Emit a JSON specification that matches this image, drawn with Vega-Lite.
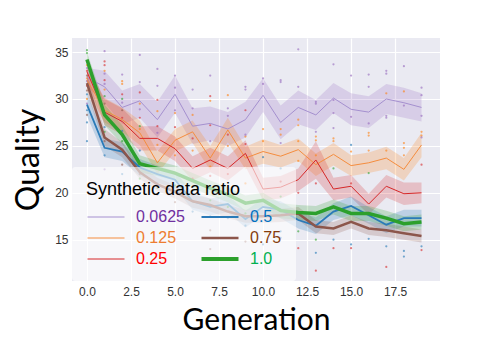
{
  "$schema": "https://vega.github.io/schema/vega-lite/v6.json",
  "width": 368,
  "height": 243,
  "autosize": "none",
  "padding": {"left": 72, "top": 38, "right": 48, "bottom": 79},
  "background": "white",
  "config": {
    "view": {"fill": "#EAEAF2", "stroke": null},
    "axis": {
      "domain": false, "ticks": false, "gridColor": "white", "gridWidth": 1.2,
      "labelFont": "Liberation Sans", "labelFontSize": 12, "labelColor": "#333333",
      "titleFont": "Lato", "titleFontWeight": "normal", "titleColor": "black"
    }
  },
  "datasets": {
    "s": [
      {"r":"0.0625","g":0,"q":32.3,"lo":31.3,"hi":33.3},{"r":"0.0625","g":1,"q":31.3,"lo":29.6,"hi":33.0},{"r":"0.0625","g":2,"q":29.1,"lo":27.3,"hi":30.9},{"r":"0.0625","g":3,"q":29.8,"lo":28.0,"hi":31.6},{"r":"0.0625","g":4,"q":27.8,"lo":25.9,"hi":29.7},{"r":"0.0625","g":5,"q":30.5,"lo":28.5,"hi":32.5},{"r":"0.0625","g":6,"q":27.1,"lo":25.2,"hi":29.0},{"r":"0.0625","g":7,"q":27.4,"lo":25.6,"hi":29.2},{"r":"0.0625","g":8,"q":26.8,"lo":25.0,"hi":28.6},{"r":"0.0625","g":9,"q":27.8,"lo":25.9,"hi":29.7},{"r":"0.0625","g":10,"q":30.4,"lo":28.6,"hi":32.2},{"r":"0.0625","g":11,"q":27.5,"lo":25.7,"hi":29.3},{"r":"0.0625","g":12,"q":29.1,"lo":27.3,"hi":30.9},{"r":"0.0625","g":13,"q":28.3,"lo":26.7,"hi":29.9},{"r":"0.0625","g":14,"q":30.1,"lo":28.5,"hi":31.7},{"r":"0.0625","g":15,"q":28.9,"lo":27.2,"hi":30.6},{"r":"0.0625","g":16,"q":28.6,"lo":26.9,"hi":30.3},{"r":"0.0625","g":17,"q":30.0,"lo":28.4,"hi":31.6},{"r":"0.0625","g":18,"q":29.6,"lo":28.0,"hi":31.2},{"r":"0.0625","g":19,"q":29.1,"lo":27.6,"hi":30.6},
      {"r":"0.125","g":0,"q":32.0,"lo":31.0,"hi":33.0},{"r":"0.125","g":1,"q":28.8,"lo":27.5,"hi":30.1},{"r":"0.125","g":2,"q":27.8,"lo":26.5,"hi":29.1},{"r":"0.125","g":3,"q":26.4,"lo":25.1,"hi":27.7},{"r":"0.125","g":4,"q":23.2,"lo":22.0,"hi":24.4},{"r":"0.125","g":5,"q":25.6,"lo":24.4,"hi":26.8},{"r":"0.125","g":6,"q":26.5,"lo":25.3,"hi":27.7},{"r":"0.125","g":7,"q":23.7,"lo":22.4,"hi":25.0},{"r":"0.125","g":8,"q":26.7,"lo":25.4,"hi":28.0},{"r":"0.125","g":9,"q":23.7,"lo":22.5,"hi":24.9},{"r":"0.125","g":10,"q":24.4,"lo":23.1,"hi":25.7},{"r":"0.125","g":11,"q":23.9,"lo":22.7,"hi":25.1},{"r":"0.125","g":12,"q":24.6,"lo":23.4,"hi":25.8},{"r":"0.125","g":13,"q":23.0,"lo":21.8,"hi":24.2},{"r":"0.125","g":14,"q":24.1,"lo":22.9,"hi":25.3},{"r":"0.125","g":15,"q":22.9,"lo":21.8,"hi":24.0},{"r":"0.125","g":16,"q":23.2,"lo":22.1,"hi":24.3},{"r":"0.125","g":17,"q":23.7,"lo":22.5,"hi":24.9},{"r":"0.125","g":18,"q":22.5,"lo":21.3,"hi":23.7},{"r":"0.125","g":19,"q":25.1,"lo":23.8,"hi":26.4},
      {"r":"0.25","g":0,"q":32.9,"lo":31.9,"hi":33.9},{"r":"0.25","g":1,"q":28.6,"lo":27.2,"hi":30.0},{"r":"0.25","g":2,"q":27.6,"lo":26.2,"hi":29.0},{"r":"0.25","g":3,"q":25.8,"lo":24.5,"hi":27.1},{"r":"0.25","g":4,"q":25.8,"lo":24.5,"hi":27.1},{"r":"0.25","g":5,"q":24.7,"lo":23.4,"hi":26.0},{"r":"0.25","g":6,"q":22.6,"lo":21.3,"hi":23.9},{"r":"0.25","g":7,"q":23.5,"lo":22.2,"hi":24.8},{"r":"0.25","g":8,"q":22.6,"lo":21.3,"hi":23.9},{"r":"0.25","g":9,"q":24.2,"lo":22.8,"hi":25.6},{"r":"0.25","g":10,"q":20.4,"lo":19.2,"hi":21.6},{"r":"0.25","g":11,"q":20.6,"lo":19.4,"hi":21.8},{"r":"0.25","g":12,"q":21.4,"lo":20.2,"hi":22.6},{"r":"0.25","g":13,"q":23.5,"lo":21.5,"hi":25.5},{"r":"0.25","g":14,"q":20.4,"lo":19.2,"hi":21.6},{"r":"0.25","g":15,"q":20.7,"lo":19.5,"hi":21.9},{"r":"0.25","g":16,"q":18.8,"lo":17.7,"hi":19.9},{"r":"0.25","g":17,"q":20.7,"lo":19.5,"hi":21.9},{"r":"0.25","g":18,"q":19.9,"lo":18.7,"hi":21.1},{"r":"0.25","g":19,"q":20.0,"lo":18.9,"hi":21.1},
      {"r":"0.5","g":0,"q":29.4,"lo":28.2,"hi":30.6},{"r":"0.5","g":1,"q":24.8,"lo":23.8,"hi":25.8},{"r":"0.5","g":2,"q":24.4,"lo":23.4,"hi":25.4},{"r":"0.5","g":3,"q":22.7,"lo":21.8,"hi":23.6},{"r":"0.5","g":4,"q":22.0,"lo":21.1,"hi":22.9},{"r":"0.5","g":5,"q":21.4,"lo":20.5,"hi":22.3},{"r":"0.5","g":6,"q":19.1,"lo":18.2,"hi":20.0},{"r":"0.5","g":7,"q":18.5,"lo":17.6,"hi":19.4},{"r":"0.5","g":8,"q":18.8,"lo":17.9,"hi":19.7},{"r":"0.5","g":9,"q":17.2,"lo":16.3,"hi":18.1},{"r":"0.5","g":10,"q":18.5,"lo":17.6,"hi":19.4},{"r":"0.5","g":11,"q":18.2,"lo":17.3,"hi":19.1},{"r":"0.5","g":12,"q":17.1,"lo":16.2,"hi":18.0},{"r":"0.5","g":13,"q":16.5,"lo":15.6,"hi":17.4},{"r":"0.5","g":14,"q":18.0,"lo":17.1,"hi":18.9},{"r":"0.5","g":15,"q":18.6,"lo":17.6,"hi":19.6},{"r":"0.5","g":16,"q":17.6,"lo":16.7,"hi":18.5},{"r":"0.5","g":17,"q":16.6,"lo":15.7,"hi":17.5},{"r":"0.5","g":18,"q":17.3,"lo":16.4,"hi":18.2},{"r":"0.5","g":19,"q":17.3,"lo":16.4,"hi":18.2},
      {"r":"0.75","g":0,"q":31.7,"lo":30.7,"hi":32.7},{"r":"0.75","g":1,"q":25.9,"lo":25.0,"hi":26.8},{"r":"0.75","g":2,"q":24.6,"lo":23.8,"hi":25.4},{"r":"0.75","g":3,"q":22.2,"lo":21.5,"hi":22.9},{"r":"0.75","g":4,"q":20.9,"lo":20.2,"hi":21.6},{"r":"0.75","g":5,"q":20.1,"lo":19.4,"hi":20.8},{"r":"0.75","g":6,"q":19.1,"lo":18.4,"hi":19.8},{"r":"0.75","g":7,"q":18.7,"lo":18.0,"hi":19.4},{"r":"0.75","g":8,"q":18.0,"lo":17.3,"hi":18.7},{"r":"0.75","g":9,"q":17.5,"lo":16.8,"hi":18.2},{"r":"0.75","g":10,"q":17.5,"lo":16.8,"hi":18.2},{"r":"0.75","g":11,"q":17.6,"lo":16.9,"hi":18.3},{"r":"0.75","g":12,"q":17.8,"lo":17.1,"hi":18.5},{"r":"0.75","g":13,"q":16.4,"lo":15.7,"hi":17.1},{"r":"0.75","g":14,"q":16.2,"lo":15.5,"hi":16.9},{"r":"0.75","g":15,"q":16.9,"lo":16.2,"hi":17.6},{"r":"0.75","g":16,"q":16.2,"lo":15.5,"hi":16.9},{"r":"0.75","g":17,"q":16.0,"lo":15.3,"hi":16.7},{"r":"0.75","g":18,"q":15.7,"lo":15.0,"hi":16.4},{"r":"0.75","g":19,"q":15.4,"lo":14.7,"hi":16.1},
      {"r":"1.0","g":0,"q":34.2,"lo":33.4,"hi":35.0},{"r":"1.0","g":1,"q":28.3,"lo":27.2,"hi":29.4},{"r":"1.0","g":2,"q":26.2,"lo":25.2,"hi":27.2},{"r":"1.0","g":3,"q":23.1,"lo":22.2,"hi":24.0},{"r":"1.0","g":4,"q":22.6,"lo":21.8,"hi":23.4},{"r":"1.0","g":5,"q":22.1,"lo":21.3,"hi":22.9},{"r":"1.0","g":6,"q":21.3,"lo":20.5,"hi":22.1},{"r":"1.0","g":7,"q":20.5,"lo":19.7,"hi":21.3},{"r":"1.0","g":8,"q":19.8,"lo":19.0,"hi":20.6},{"r":"1.0","g":9,"q":18.9,"lo":18.1,"hi":19.7},{"r":"1.0","g":10,"q":19.2,"lo":18.4,"hi":20.0},{"r":"1.0","g":11,"q":18.1,"lo":17.3,"hi":18.9},{"r":"1.0","g":12,"q":17.9,"lo":17.1,"hi":18.7},{"r":"1.0","g":13,"q":17.8,"lo":17.0,"hi":18.6},{"r":"1.0","g":14,"q":18.5,"lo":17.7,"hi":19.3},{"r":"1.0","g":15,"q":17.8,"lo":17.0,"hi":18.6},{"r":"1.0","g":16,"q":17.8,"lo":17.0,"hi":18.6},{"r":"1.0","g":17,"q":17.3,"lo":16.5,"hi":18.1},{"r":"1.0","g":18,"q":16.7,"lo":15.9,"hi":17.5},{"r":"1.0","g":19,"q":16.9,"lo":16.1,"hi":17.7}
    ],
    "p": [
      {"r":"1.0","g":0,"v":35.2},{"r":"1.0","g":0,"v":34.9},{"r":"0.25","g":0,"v":34.0},{"r":"0.125","g":0,"v":33.6},{"r":"0.0625","g":0,"v":33.3},{"r":"0.25","g":0,"v":33.0},{"r":"0.75","g":0,"v":32.5},{"r":"0.125","g":0,"v":32.2},{"r":"0.0625","g":0,"v":31.9},{"r":"0.25","g":0,"v":31.4},{"r":"0.75","g":0,"v":30.9},{"r":"0.5","g":0,"v":30.5},{"r":"0.125","g":0,"v":30.0},{"r":"0.0625","g":0,"v":29.5},{"r":"0.5","g":0,"v":28.8},{"r":"0.75","g":0,"v":28.3},{"r":"0.5","g":0,"v":27.5},{"r":"0.5","g":0,"v":25.5},
      {"r":"0.0625","g":1,"v":35.1},{"r":"0.25","g":1,"v":34.0},{"r":"0.25","g":1,"v":33.6},{"r":"0.125","g":1,"v":33.0},{"r":"0.0625","g":1,"v":32.7},{"r":"0.25","g":1,"v":32.0},{"r":"0.0625","g":1,"v":31.6},{"r":"0.125","g":1,"v":31.0},{"r":"1.0","g":1,"v":30.3},{"r":"0.75","g":1,"v":29.5},{"r":"0.5","g":1,"v":27.0},{"r":"1.0","g":1,"v":26.5},{"r":"0.75","g":1,"v":25.5},{"r":"0.5","g":1,"v":24.0},{"r":"0.0625","g":1,"v":22.5},
      {"r":"0.0625","g":2,"v":32.6},{"r":"0.125","g":2,"v":31.9},{"r":"0.125","g":2,"v":31.6},{"r":"0.25","g":2,"v":30.5},{"r":"1.0","g":2,"v":30.0},{"r":"0.0625","g":2,"v":29.6},{"r":"0.75","g":2,"v":28.8},{"r":"0.25","g":2,"v":28.0},{"r":"0.5","g":2,"v":26.6},{"r":"1.0","g":2,"v":25.5},{"r":"0.75","g":2,"v":23.0},{"r":"0.5","g":2,"v":22.0},
      {"r":"0.0625","g":3,"v":34.7},{"r":"0.0625","g":3,"v":31.8},{"r":"0.25","g":3,"v":30.7},{"r":"0.125","g":3,"v":29.5},{"r":"0.0625","g":3,"v":28.9},{"r":"0.25","g":3,"v":28.0},{"r":"1.0","g":3,"v":27.1},{"r":"0.125","g":3,"v":26.8},{"r":"0.5","g":3,"v":24.5},{"r":"0.75","g":3,"v":22.0},{"r":"1.0","g":3,"v":21.5},{"r":"0.5","g":3,"v":20.5},
      {"r":"0.0625","g":4,"v":33.2},{"r":"0.0625","g":4,"v":31.4},{"r":"0.25","g":4,"v":29.9},{"r":"0.125","g":4,"v":28.7},{"r":"0.25","g":4,"v":27.1},{"r":"0.0625","g":4,"v":26.4},{"r":"0.125","g":4,"v":25.1},{"r":"0.5","g":4,"v":21.0},{"r":"1.0","g":4,"v":20.5},{"r":"0.75","g":4,"v":19.8},
      {"r":"0.0625","g":5,"v":32.5},{"r":"0.0625","g":5,"v":31.2},{"r":"0.125","g":5,"v":28.5},{"r":"0.25","g":5,"v":27.0},{"r":"0.125","g":5,"v":24.0},{"r":"0.0625","g":5,"v":28.8},{"r":"1.0","g":5,"v":20.8},{"r":"0.5","g":5,"v":20.2},{"r":"0.75","g":5,"v":19.0},
      {"r":"0.0625","g":6,"v":31.0},{"r":"0.125","g":6,"v":28.3},{"r":"0.25","g":6,"v":25.8},{"r":"0.0625","g":6,"v":29.0},{"r":"0.125","g":6,"v":24.5},{"r":"0.25","g":6,"v":21.5},{"r":"1.0","g":6,"v":20.2},{"r":"0.5","g":6,"v":18.0},
      {"r":"0.0625","g":7,"v":32.5},{"r":"0.25","g":7,"v":30.3},{"r":"0.125","g":7,"v":29.8},{"r":"0.25","g":7,"v":27.2},{"r":"0.0625","g":7,"v":25.5},{"r":"0.125","g":7,"v":22.8},{"r":"0.25","g":7,"v":21.8},{"r":"1.0","g":7,"v":19.2},{"r":"0.5","g":7,"v":17.5},{"r":"0.75","g":7,"v":16.0},{"r":"0.75","g":7,"v":14.0},{"r":"0.5","g":7,"v":13.0},
      {"r":"0.125","g":8,"v":30.4},{"r":"0.0625","g":8,"v":29.0},{"r":"0.0625","g":8,"v":28.2},{"r":"0.25","g":8,"v":26.2},{"r":"0.125","g":8,"v":25.0},{"r":"0.25","g":8,"v":22.0},{"r":"1.0","g":8,"v":18.5},{"r":"0.5","g":8,"v":17.3},
      {"r":"0.0625","g":9,"v":31.3},{"r":"0.0625","g":9,"v":31.0},{"r":"0.25","g":9,"v":28.8},{"r":"0.125","g":9,"v":26.0},{"r":"0.25","g":9,"v":25.2},{"r":"0.0625","g":9,"v":26.2},{"r":"0.125","g":9,"v":21.0},{"r":"1.0","g":9,"v":17.8},{"r":"0.5","g":9,"v":16.5},{"r":"0.75","g":9,"v":14.8},
      {"r":"0.0625","g":10,"v":32.2},{"r":"0.0625","g":10,"v":31.6},{"r":"0.125","g":10,"v":26.8},{"r":"0.125","g":10,"v":25.5},{"r":"0.5","g":10,"v":23.8},{"r":"0.5","g":10,"v":14.5},
      {"r":"0.0625","g":11,"v":32.0},{"r":"0.0625","g":11,"v":31.8},{"r":"0.125","g":11,"v":26.8},{"r":"0.125","g":11,"v":26.2},{"r":"0.0625","g":11,"v":25.3},{"r":"0.5","g":11,"v":22.6},{"r":"0.25","g":11,"v":21.2},{"r":"1.0","g":11,"v":19.6},{"r":"0.5","g":11,"v":15.9},{"r":"0.5","g":11,"v":15.2},
      {"r":"0.0625","g":12,"v":35.3},{"r":"0.0625","g":12,"v":31.3},{"r":"0.125","g":12,"v":27.8},{"r":"0.125","g":12,"v":27.2},{"r":"0.125","g":12,"v":25.5},{"r":"0.125","g":12,"v":23.4},{"r":"0.25","g":12,"v":20.0},{"r":"1.0","g":12,"v":15.9},{"r":"0.25","g":12,"v":14.1},
      {"r":"0.0625","g":13,"v":29.7},{"r":"0.0625","g":13,"v":29.5},{"r":"0.0625","g":13,"v":26.5},{"r":"0.125","g":13,"v":26.0},{"r":"0.125","g":13,"v":25.6},{"r":"0.125","g":13,"v":24.0},{"r":"0.25","g":13,"v":21.0},{"r":"1.0","g":13,"v":15.0},{"r":"0.5","g":13,"v":13.6},{"r":"0.25","g":13,"v":11.7},
      {"r":"0.0625","g":14,"v":33.7},{"r":"0.0625","g":14,"v":29.9},{"r":"0.0625","g":14,"v":28.5},{"r":"0.0625","g":14,"v":26.9},{"r":"0.125","g":14,"v":25.8},{"r":"0.125","g":14,"v":25.5},{"r":"1.0","g":14,"v":22.6},{"r":"0.5","g":14,"v":15.0},{"r":"0.25","g":14,"v":14.1},
      {"r":"0.0625","g":15,"v":32.5},{"r":"0.0625","g":15,"v":28.1},{"r":"0.5","g":15,"v":25.1},{"r":"0.125","g":15,"v":24.4},{"r":"0.25","g":15,"v":21.0},{"r":"0.5","g":15,"v":14.5},{"r":"0.25","g":15,"v":14.1},
      {"r":"0.0625","g":16,"v":32.6},{"r":"0.0625","g":16,"v":31.3},{"r":"0.0625","g":16,"v":27.4},{"r":"0.125","g":16,"v":26.4},{"r":"0.125","g":16,"v":26.1},{"r":"0.125","g":16,"v":24.5},{"r":"1.0","g":16,"v":22.1},{"r":"0.5","g":16,"v":15.1},
      {"r":"0.0625","g":17,"v":33.0},{"r":"0.0625","g":17,"v":32.7},{"r":"0.125","g":17,"v":30.6},{"r":"0.0625","g":17,"v":28.2},{"r":"0.0625","g":17,"v":28.0},{"r":"0.125","g":17,"v":24.5},{"r":"0.5","g":17,"v":14.3},{"r":"0.25","g":17,"v":12.1},
      {"r":"0.0625","g":18,"v":33.5},{"r":"0.125","g":18,"v":30.8},{"r":"0.0625","g":18,"v":29.3},{"r":"0.125","g":18,"v":25.3},{"r":"0.125","g":18,"v":24.8},{"r":"0.125","g":18,"v":24.0},{"r":"0.5","g":18,"v":13.8},{"r":"0.5","g":18,"v":13.2},
      {"r":"0.0625","g":19,"v":31.2},{"r":"0.0625","g":19,"v":30.4},{"r":"0.0625","g":19,"v":28.2},{"r":"0.125","g":19,"v":26.5},{"r":"0.125","g":19,"v":26.1},{"r":"0.0625","g":19,"v":25.9},{"r":"0.25","g":19,"v":23.0},{"r":"0.5","g":19,"v":14.3},{"r":"0.25","g":19,"v":13.9}
    ]
  },
  "layer": [
    {
      "data": {"name": "s"},
      "mark": {"type": "area", "opacity": 0.22},
      "encoding": {
        "x": {"field": "g", "type": "quantitative",
              "scale": {"domain": [-0.85, 20.05], "nice": false, "zero": false},
              "axis": {"values": [0, 2.5, 5, 7.5, 10, 12.5, 15, 17.5], "format": ".1f", "title": "Generation", "titleFontSize": 30, "labelPadding": 5, "titlePadding": 8}},
        "y": {"field": "lo", "type": "quantitative", "stack": null,
              "scale": {"domain": [10.6, 36.5], "nice": false, "zero": false},
              "axis": {"values": [15, 20, 25, 30, 35], "title": "Quality", "titleFontSize": 32, "labelPadding": 4, "titlePadding": 9}},
        "y2": {"field": "hi"},
        "fill": {"field": "r", "type": "nominal", "legend": null,
                 "scale": {"domain": ["1.0", "0.75", "0.5", "0.25", "0.125", "0.0625"],
                           "range": ["#2ca02c", "#8c564b", "#1f77b4", "#d62728", "#ff7f0e", "#9467bd"]}}
      }
    },
    {
      "data": {"name": "p"},
      "mark": {"type": "circle", "size": 5, "opacity": 0.6},
      "encoding": {
        "x": {"field": "g", "type": "quantitative"},
        "y": {"field": "v", "type": "quantitative"},
        "fill": {"field": "r", "type": "nominal", "legend": null}
      }
    },
    {
      "data": {"name": "s"},
      "transform": [{"filter": {"field": "r", "oneOf": ["0.0625", "0.125", "0.25"]}}],
      "mark": {"type": "line", "strokeWidth": 1},
      "encoding": {
        "x": {"field": "g", "type": "quantitative"},
        "y": {"field": "q", "type": "quantitative"},
        "color": {"field": "r", "type": "nominal",
                  "scale": {"domain": ["0.0625", "0.125", "0.25", "0.5", "0.75", "1.0"],
                            "range": ["#a590cf", "#f58d3e", "#d62728", "#2a7ab8", "#8c564b", "#2ca02c"]},
                  "legend": {
                    "title": "Synthetic data ratio", "orient": "bottom-left", "offset": 0, "columns": 2,
                    "symbolType": "stroke", "symbolSize": 1369, "symbolOpacity": 1, "symbolOffset": 12,
                    "labelFont": "Liberation Sans", "labelFontSize": 16, "labelOffset": 22,
                    "titleFont": "Liberation Sans", "titleFontSize": 18, "titleFontWeight": "normal", "titleColor": "black",
                    "fillColor": "rgba(255,255,255,0.6)", "cornerRadius": 3, "padding": 14,
                    "columnPadding": 8, "rowPadding": 5, "titlePadding": 10,
                    "encode": {
                      "labels": {"update": {"fill": {"signal": "datum.value === '0.0625' ? '#7030A0' : datum.value === '0.125' ? '#ED7D31' : datum.value === '0.25' ? '#FF0000' : datum.value === '0.5' ? '#0070C0' : datum.value === '0.75' ? '#843C0C' : '#00B050'"}}},
                      "symbols": {"update": {"strokeWidth": {"signal": "datum.value === '0.5' ? 1.8 : datum.value === '0.75' ? 2.5 : datum.value === '1.0' ? 4 : 1"}}}
                    }
                  }}
      }
    },
    {
      "data": {"name": "s"},
      "transform": [{"filter": {"field": "r", "equal": "0.5"}}],
      "mark": {"type": "line", "strokeWidth": 1.8},
      "encoding": {
        "x": {"field": "g", "type": "quantitative"},
        "y": {"field": "q", "type": "quantitative"},
        "color": {"field": "r", "type": "nominal"}
      }
    },
    {
      "data": {"name": "s"},
      "transform": [{"filter": {"field": "r", "equal": "0.75"}}],
      "mark": {"type": "line", "strokeWidth": 2.5},
      "encoding": {
        "x": {"field": "g", "type": "quantitative"},
        "y": {"field": "q", "type": "quantitative"},
        "color": {"field": "r", "type": "nominal"}
      }
    },
    {
      "data": {"name": "s"},
      "transform": [{"filter": {"field": "r", "equal": "1.0"}}],
      "mark": {"type": "line", "strokeWidth": 3.5},
      "encoding": {
        "x": {"field": "g", "type": "quantitative"},
        "y": {"field": "q", "type": "quantitative"},
        "color": {"field": "r", "type": "nominal"}
      }
    }
  ]
}
